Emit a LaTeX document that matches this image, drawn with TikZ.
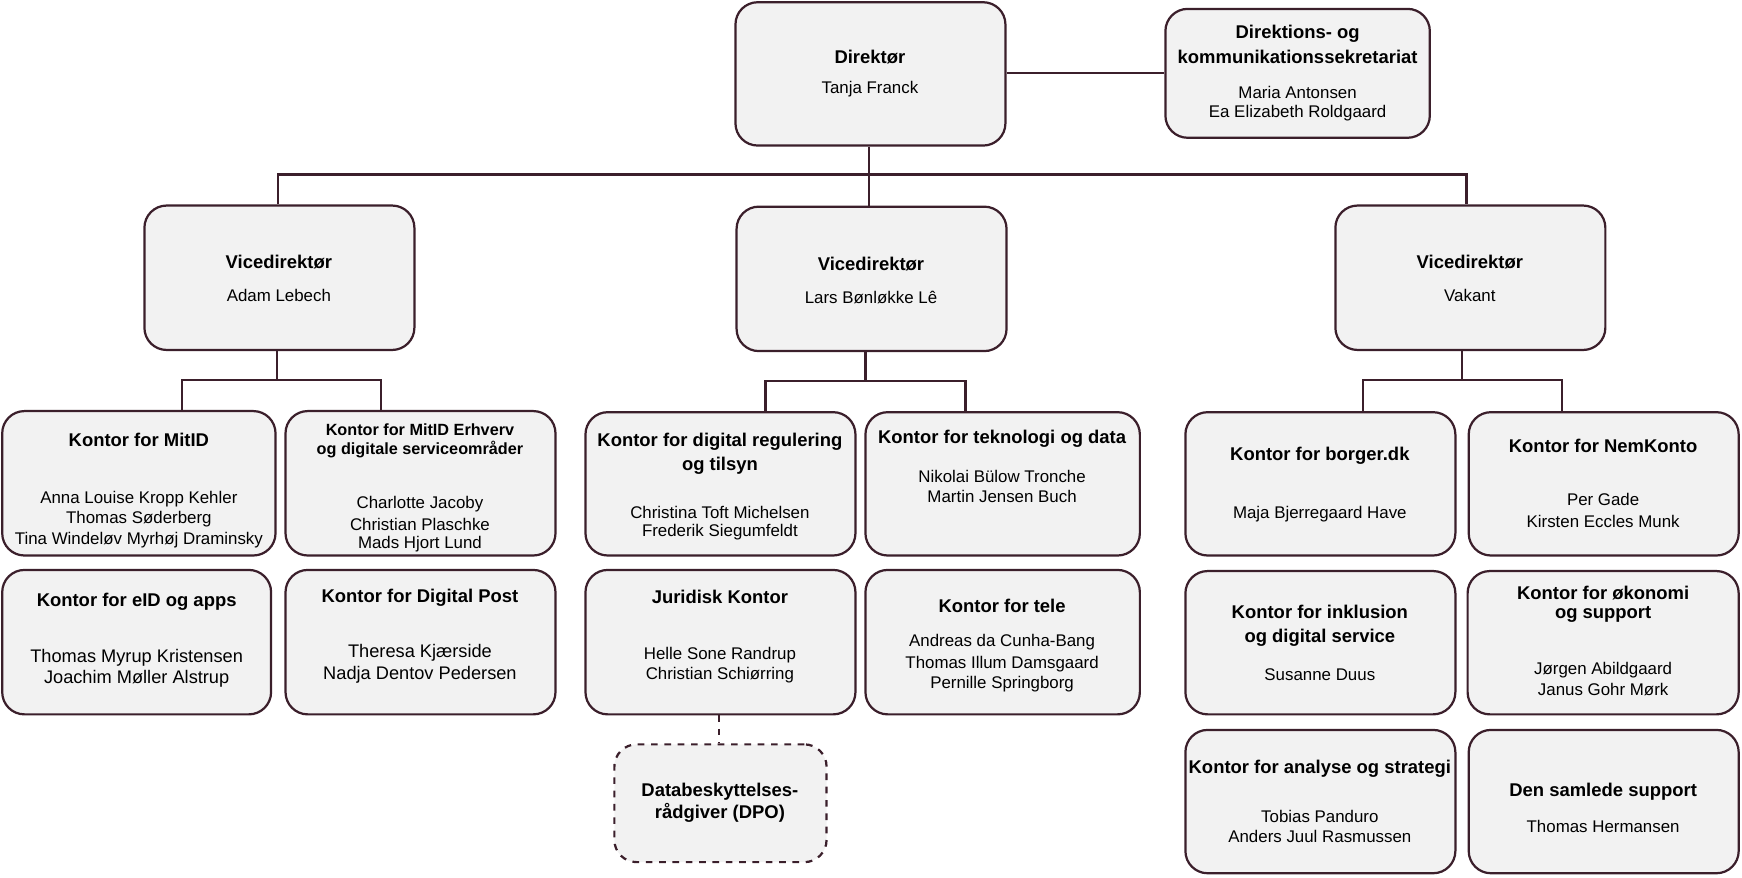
\documentclass[tikz,border=0pt]{standalone}
\usepackage{fontspec}
\setmainfont{Liberation Sans}
\usetikzlibrary{fit}
\definecolor{edge}{HTML}{3B1F2B}
\definecolor{boxfill}{HTML}{F2F2F2}
\tikzset{
 box/.style={draw=edge,fill=boxfill,line width=1pt,rounded corners=10pt,inner sep=0pt},
 dbox/.style={box,dashed},
 ttl/.style={font=\fontsize{8.3}{10}\selectfont\bfseries,inner sep=0pt},
 sttl/.style={font=\fontsize{7.3}{9}\selectfont\bfseries,inner sep=0pt},
 nm/.style={font=\fontsize{7.6}{9}\selectfont,inner sep=0pt},
 con/.style={draw=edge,line width=1pt}
}
\newcommand{\bx}[6][box]{\node[#1,fit={(#3,#4)(#5,#6)}] (#2) {};}
\begin{document}
\begin{tikzpicture}[x=0.5pt,y=-0.5pt]
\useasboundingbox (0,0) rectangle (1568,789.5);
% boxes
\bx{dir}{662}{2}{905}{131}
\bx{sek}{1049}{8}{1287}{124}
\bx{vda}{130}{185}{373}{315}
\bx{vdb}{663}{186}{906}{316}
\bx{vdc}{1202}{185}{1445}{315}
\bx{mitid}{2}{370}{248}{500}
\bx{erh}{257}{370}{500}{500}
\bx{reg}{527}{371}{770}{500}
\bx{tek}{779}{371}{1026}{500}
\bx{borg}{1067}{371}{1310}{500}
\bx{nem}{1322}{371}{1565}{500}
\bx{eid}{2}{513}{244}{643}
\bx{post}{257}{513}{500}{643}
\bx{jur}{527}{513}{770}{643}
\bx{tele}{779}{513}{1026}{643}
\bx{inkl}{1067}{514}{1310}{643}
\bx{oek}{1321}{514}{1565}{643}
\bx{ana}{1067}{657}{1310}{786}
\bx{sam}{1322}{657}{1565}{786}
\bx[dbox]{dpo}{553}{670}{744}{776}
% connectors
\draw[con] (dir.east |- 0,66) -- (sek.west |- 0,66);
\coordinate (b0) at (782,157);
\draw[con] (dir.south -| b0) -- (b0);
\draw[con] (vda.north -| 250,0) -- (250,157) -- (1320,157) -- (vdc.north -| 1320,0);
\draw[con] (b0) -- (vdb.north -| b0);
\draw[con] (vda.south -| 249,0) -- (249,342);
\draw[con] (mitid.north -| 164,0) -- (164,342) -- (343,342) -- (erh.north -| 343,0);
\draw[con] (vdb.south -| 779,0) -- (779,343);
\draw[con] (reg.north -| 689,0) -- (689,343) -- (869,343) -- (tek.north -| 869,0);
\draw[con] (vdc.south -| 1316,0) -- (1316,342);
\draw[con] (borg.north -| 1227,0) -- (1227,342) -- (1406,342) -- (nem.north -| 1406,0);
\draw[con,dashed] (jur.south -| 647,0) -- (dpo.north -| 647,0);
% texts
\node[ttl] (t1) at (783,51) {Direktør};
\node[nm] (n1) at (783,80) {Tanja Franck};
\node[ttl] (t2) at (1168,30) {Direktions- og};
\node[ttl] (t2b) at (1168,51) {kommunikationssekretariat};
\node[nm] (n2) at (1168,83) {Maria Antonsen};
\node[nm] (n2b) at (1168,102) {Ea Elizabeth Roldgaard};
\node[ttl] (t3) at (251,236) {Vicedirektør};
\node[nm] (n3) at (251,266) {Adam Lebech};
\node[ttl] (t4) at (784,238) {Vicedirektør};
\node[nm] (n4) at (784,268) {Lars Bønløkke Lê};
\node[ttl] (t5) at (1323,236) {Vicedirektør};
\node[nm] (n5) at (1323,266) {Vakant};
\node[ttl] (t6) at (125,396) {Kontor for MitID};
\node[nm] (n6a) at (125,449) {Anna Louise Kropp Kehler};
\node[nm] (n6b) at (125,467) {Thomas Søderberg};
\node[nm] (n6c) at (125,486) {Tina Windeløv Myrhøj Draminsky};
\node[sttl] (t7a) at (378,387) {Kontor for MitID Erhverv};
\node[sttl] (t7b) at (378,405) {og digitale serviceområder};
\node[nm] (n7a) at (378,454) {Charlotte Jacoby};
\node[nm] (n7b) at (378,472) {Christian Plaschke};
\node[nm] (n7c) at (378,490) {Mads Hjort Lund};
\node[ttl] (t8a) at (648,398) {Kontor for digital regulering};
\node[ttl] (t8b) at (648,419) {og tilsyn};
\node[nm] (n8a) at (648,461) {Christina Toft Michelsen};
\node[nm] (n8b) at (648,479) {Frederik Siegumfeldt};
\node[ttl] (t9) at (902,395) {Kontor for teknologi og data};
\node[nm] (n9a) at (902,429) {Nikolai Bülow Tronche};
\node[nm] (n9b) at (902,447) {Martin Jensen Buch};
\node[ttl] (t10) at (1188,410) {Kontor for borger.dk};
\node[nm] (n10) at (1188,463) {Maja Bjerregaard Have};
\node[ttl] (t11) at (1443,401) {Kontor for NemKonto};
\node[nm] (n11a) at (1443,450) {Per Gade};
\node[nm] (n11b) at (1443,469) {Kirsten Eccles Munk};
\node[ttl] (t12) at (123,542) {Kontor for eID og apps};
\node[nm,font=\fontsize{8.2}{10}\selectfont] (n12a) at (123,592) {Thomas Myrup Kristensen};
\node[nm,font=\fontsize{8.2}{10}\selectfont] (n12b) at (123,611) {Joachim Møller Alstrup};
\node[ttl] (t13) at (378,538) {Kontor for Digital Post};
\node[nm,font=\fontsize{8.2}{10}\selectfont] (n13a) at (378,588) {Theresa Kjærside};
\node[nm,font=\fontsize{8.2}{10}\selectfont] (n13b) at (378,607) {Nadja Dentov Pedersen};
\node[ttl] (t14) at (648,537) {Juridisk Kontor};
\node[nm] (n14a) at (648,590) {Helle Sone Randrup};
\node[nm] (n14b) at (648,608) {Christian Schiørring};
\node[ttl] (t15) at (902,545) {Kontor for tele};
\node[nm] (n15a) at (902,578) {Andreas da Cunha-Bang};
\node[nm] (n15b) at (902,598) {Thomas Illum Damsgaard};
\node[nm] (n15c) at (902,616) {Pernille Springborg};
\node[ttl] (t16a) at (1188,551) {Kontor for inklusion};
\node[ttl] (t16b) at (1188,574) {og digital service};
\node[nm] (n16) at (1188,607) {Susanne Duus};
\node[ttl] (t17a) at (1443,534) {Kontor for økonomi};
\node[ttl] (t17b) at (1443,553) {og support};
\node[nm] (n17a) at (1443,603) {Jørgen Abildgaard};
\node[nm] (n17b) at (1443,621) {Janus Gohr Mørk};
\node[ttl] (t18) at (1188,692) {Kontor for analyse og strategi};
\node[nm] (n18a) at (1188,735) {Tobias Panduro};
\node[nm] (n18b) at (1188,753) {Anders Juul Rasmussen};
\node[ttl] (t19) at (1443,713) {Den samlede support};
\node[nm] (n19) at (1443,744) {Thomas Hermansen};
\node[ttl] (t20a) at (648,713) {Databeskyttelses-};
\node[ttl] (t20b) at (648,732) {rådgiver (DPO)};
\end{tikzpicture}
\end{document}
